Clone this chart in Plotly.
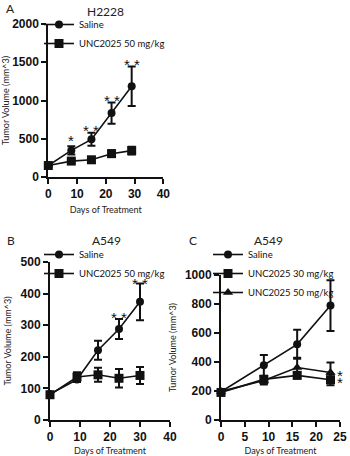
import plotly.graph_objects as go

# ---------------- data ----------------
# Panel A: H2228
a_days = [0, 8, 15, 22, 29]
a_saline = [150, 348, 492, 835, 1185]
a_saline_err = [20, 55, 85, 140, 258]
a_unc50 = [150, 208, 225, 305, 345]
a_unc50_err = [15, 25, 30, 45, 50]
a_star_days = [8, 15, 22, 29]
a_star_vals = [520, 650, 1040, 1510]
a_star_text = ["*", "* *", "* *", "* *"]

# Panel B: A549
b_days = [0, 9, 16, 23, 30]
b_saline = [82, 128, 221, 288, 374]
b_saline_err = [5, 8, 30, 32, 58]
b_unc50 = [80, 136, 143, 132, 141]
b_unc50_err = [5, 15, 22, 29, 27]
b_star_days = [23, 30]
b_star_vals = [334, 443]
b_star_text = ["* *", "* *"]

# Panel C: A549 (two doses)
c_days = [0, 9, 16, 23]
c_saline = [195, 377, 522, 789]
c_saline_err = [15, 72, 100, 175]
c_unc30 = [190, 280, 308, 278]
c_unc30_err = [15, 22, 22, 38]
c_unc50 = [197, 272, 362, 328]
c_unc50_err = [12, 28, 68, 68]
c_star_day = [24.9, 24.9]
c_star_vals = [330, 280]

ytitle = "Tumor Volume (mm^3)"
xtitle = "Days of Treatment"

BLACK = "#111111"
fig = go.Figure()


def add_series(x, y, err, name, symbol, size, xa, ya, legend):
    fig.add_trace(go.Scatter(
        x=x, y=y, name=name, mode="lines+markers",
        xaxis=xa, yaxis=ya, legend=legend, cliponaxis=False,
        line=dict(color=BLACK, width=1.6),
        marker=dict(symbol=symbol, size=size, color=BLACK),
        error_y=dict(type="data", array=err, visible=True,
                     color=BLACK, thickness=2, width=4),
    ))


add_series(a_days, a_saline, a_saline_err, "Saline", "circle", 8, "x", "y", "legend")
add_series(a_days, a_unc50, a_unc50_err, "UNC2025 50 mg/kg", "square", 9, "x", "y", "legend")
add_series(b_days, b_saline, b_saline_err, "Saline", "circle", 8, "x2", "y2", "legend2")
add_series(b_days, b_unc50, b_unc50_err, "UNC2025 50 mg/kg", "square", 9, "x2", "y2", "legend2")
add_series(c_days, c_saline, c_saline_err, "Saline", "circle", 8, "x3", "y3", "legend3")
add_series(c_days, c_unc30, c_unc30_err, "UNC2025 30 mg/kg", "square", 9, "x3", "y3", "legend3")
add_series(c_days, c_unc50, c_unc50_err, "UNC2025 50 mg/kg", "triangle-up", 9, "x3", "y3", "legend3")

W, H = 350, 456


def px(x):
    return x / W


def py(y):
    return (H - y) / H


tickfont = dict(family="Liberation Sans, Arial", size=12, color=BLACK, weight="bold")
titlefont = dict(family="Lato, Open Sans", size=9, color="#222222")


def xaxis(domain, rng, dtick, anchor, standoff=6):
    return dict(domain=domain, range=rng, dtick=dtick, anchor=anchor,
                showline=True, linewidth=2, linecolor=BLACK, mirror=False,
                ticks="outside", ticklen=5, tickwidth=2, tickcolor=BLACK,
                showgrid=False, zeroline=False, tickfont=tickfont,
                automargin=False,
                title=dict(text=xtitle, font=titlefont, standoff=standoff))


def yaxis(domain, rng, dtick, anchor):
    return dict(domain=domain, range=rng, dtick=dtick, anchor=anchor,
                showline=True, linewidth=2, linecolor=BLACK,
                ticks="outside", ticklen=5, tickwidth=2, tickcolor=BLACK,
                showgrid=False, zeroline=False, tickfont=tickfont,
                automargin=False,
                title=dict(text=ytitle, font=titlefont, standoff=7))


legfont = dict(family="Lato, Open Sans", size=9.5, color=BLACK)


def legend(x, y):
    return dict(x=x, y=y, xanchor="left", yanchor="top", font=legfont,
                bgcolor="rgba(0,0,0,0)", itemwidth=30, tracegroupgap=0,
                borderwidth=0)


fig.update_layout(
    width=W, height=H, margin=dict(l=0, r=0, t=0, b=0),
    paper_bgcolor="white", plot_bgcolor="white",
    showlegend=True,
    xaxis=xaxis([px(48.3), px(163.3)], [0, 40], 10, "y"),
    yaxis=yaxis([py(177), py(24)], [0, 2000], 500, "x"),
    xaxis2=xaxis([px(50), px(170)], [0, 40], 10, "y2"),
    yaxis2=yaxis([py(420), py(262)], [0, 500], 100, "x2"),
    xaxis3=xaxis([px(221), px(340)], [0, 25], 5, "y3", standoff=15),
    yaxis3=yaxis([py(420), py(275)], [0, 1000], 200, "x3"),
    legend=legend(px(39), py(10)),
    legend2=legend(px(39), py(240)),
    legend3=legend(px(208), py(240)),
)

labfont = dict(family="Lato, Open Sans", size=12, color="#222222")
for txt, x, y in [("A", 10, 8), ("B", 11, 240), ("C", 193, 240),
                  ("H2228", 105, 12), ("A549", 106, 240), ("A549", 268, 240)]:
    fig.add_annotation(text=txt, x=px(x), y=py(y), xref="paper", yref="paper",
                       showarrow=False, font=labfont, xanchor="center", yanchor="middle")

starfont = dict(family="Liberation Sans, Arial", size=15, color=BLACK)
for d, v, t in zip(a_star_days, a_star_vals, a_star_text):
    fig.add_annotation(text=t, x=d, y=v, xref="x", yref="y", showarrow=False,
                       font=starfont, yanchor="middle", yshift=-3)
for d, v, t in zip(b_star_days, b_star_vals, b_star_text):
    fig.add_annotation(text=t, x=d, y=v, xref="x2", yref="y2", showarrow=False,
                       font=starfont, yanchor="middle", yshift=-3)
for d, v in zip(c_star_day, c_star_vals):
    fig.add_annotation(text="*", x=d, y=v, xref="x3", yref="y3", showarrow=False,
                       font=starfont, yanchor="middle", yshift=-3)

fig.write_html("out.html")
